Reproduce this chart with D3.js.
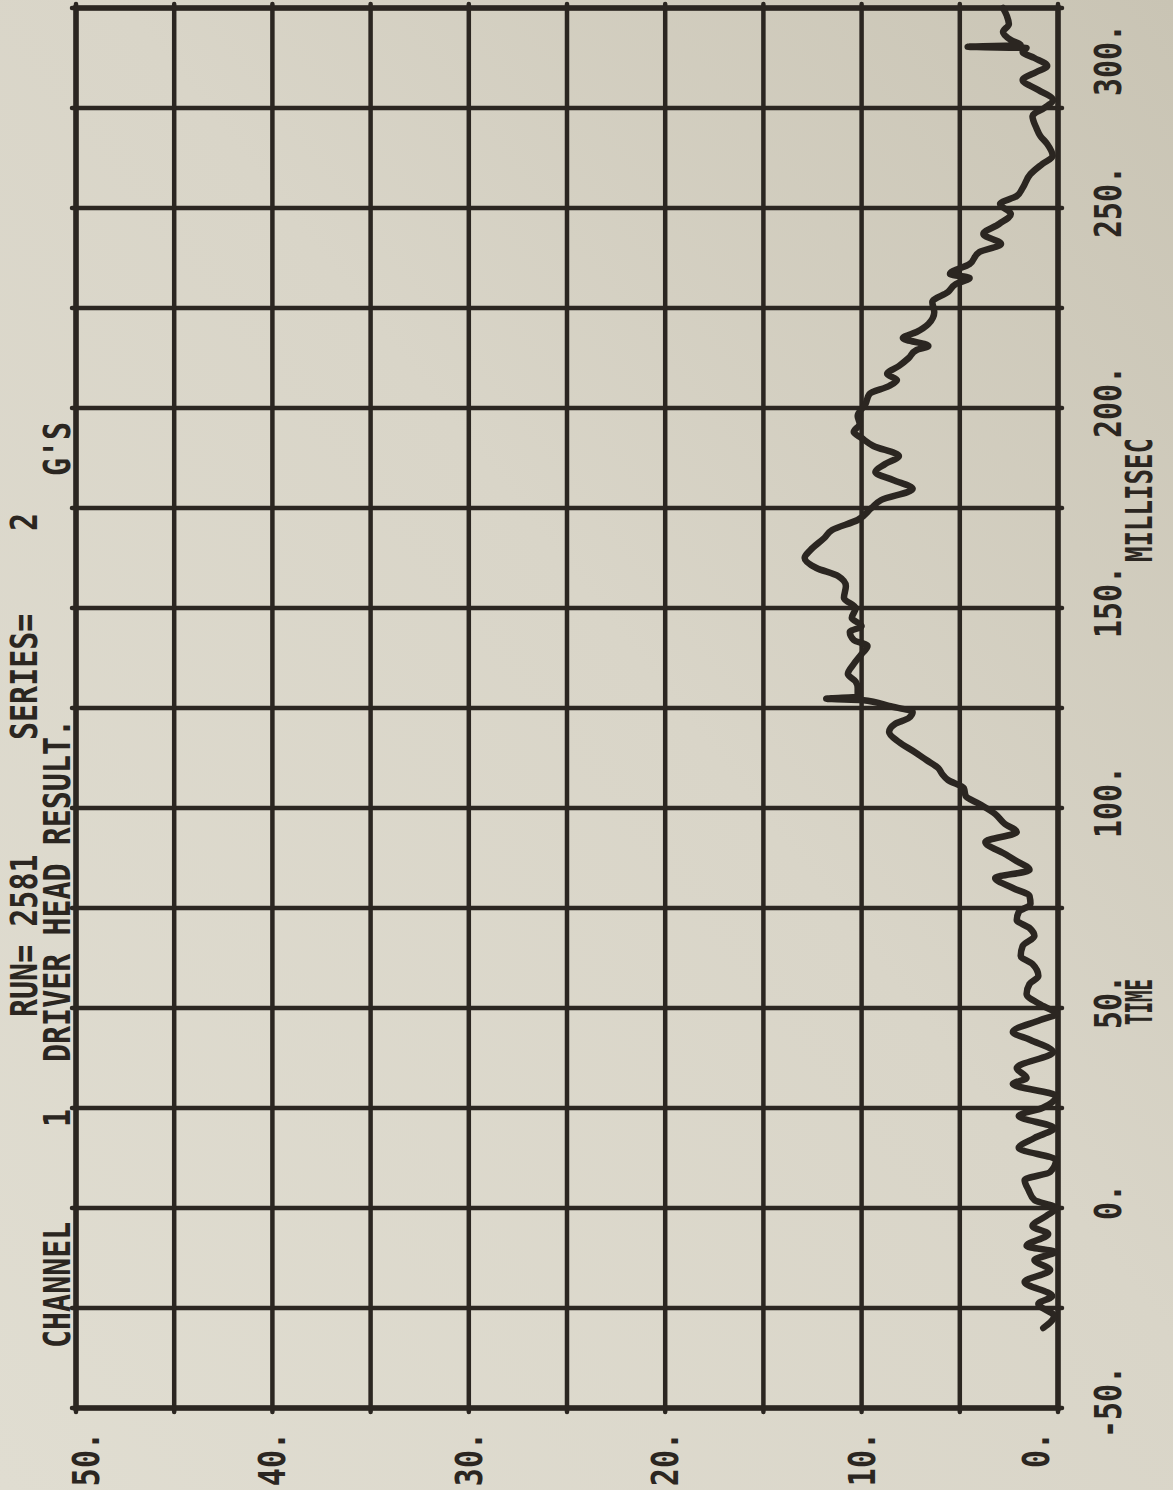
<!DOCTYPE html>
<html>
<head>
<meta charset="utf-8">
<script src="https://cdn.jsdelivr.net/npm/d3@7"></script>
<style>
  body { margin: 0; background: #dbd7ca; }
  svg { display: block; }
</style>
</head>
<body>
<svg id="chart"></svg>
<script>
// Driver head resultant acceleration (time in ms, value in G's)
const timeMs = [
  -30, -27, -24, -22, -18.5, -15.5, -13, -11, -9.5, -6.5, -4.5, -2, 0, 2, 4.5, 7, 9, 12, 15, 17.5,
  20, 23, 25, 28, 31, 32.5, 35, 39, 42, 44, 47, 48.5, 51, 53.5, 56, 58, 61, 63, 65.5, 68,
  70, 72, 74, 76, 78, 80, 82.5, 84.5, 87, 88.5, 91.5, 94, 96, 98.5, 101, 103, 105, 107, 108.5, 110,
  112, 114, 116.5, 119, 121, 122.5, 124, 125.5, 127, 127.3, 127.8, 130, 131.6, 133.5, 136, 138.5, 140.5, 142, 144, 145.5,
  147.5, 150, 152.5, 155.5, 158, 160, 162.5, 164.5, 167.5, 169.5, 172, 175, 177, 179.8, 182, 184, 186, 188, 190.5, 192.5,
  194, 196, 198, 201, 203.5, 205.5, 207, 208.5, 210.5, 212.5, 214.5, 215.5, 217.5, 219, 221, 224, 226.5, 229, 231, 232.5,
  233.5, 236, 239, 241, 243.5, 246, 248.5, 251, 253, 255, 258.5, 261, 263, 266, 268, 270, 273, 275, 277, 279.5,
  282, 284, 285.5, 287.5, 289, 290, 290.3, 290.7, 292, 294, 296, 298, 300
];
const headG = [
  0.75, 0.2, 1.0, 0.3, 1.7, 0.4, 1.2, 0.15, 1.6, 0.5, 1.3, 0.6, 0.1, 1.2, 1.5, 1.7, 0.4, 0.1, 2.0, 1.2,
  0.2, 2.0, 0.8, 0.1, 2.3, 1.6, 2.1, 0.25, 1.4, 2.3, 0.9, 0.1, 0.95, 1.6, 1.45, 1.0, 1.3, 1.9, 1.8, 1.2,
  1.45, 2.1, 2.0, 1.4, 1.45, 2.3, 3.2, 1.45, 2.2, 2.7, 3.7, 2.1, 2.7, 3.2, 4.0, 4.7, 4.8, 5.6, 5.9, 6.1,
  6.7, 7.3, 8.1, 8.6, 8.3, 7.6, 7.4, 8.6, 10.0, 11.8, 10.2, 10.2, 10.3, 10.7, 10.4, 10.0, 9.7, 10.4, 10.6, 10.0,
  10.5, 10.3, 10.9, 10.8, 11.2, 12.3, 12.9, 12.6, 11.9, 11.5, 10.2, 9.5, 9.0, 7.4, 8.4, 9.3, 8.8, 8.1, 9.4, 10.0,
  10.4, 10.1, 10.2, 9.8, 9.6, 8.6, 8.2, 8.7, 8.1, 7.6, 7.2, 6.6, 7.9, 7.2, 6.6, 6.3, 6.4, 5.6, 5.2, 4.5,
  5.5, 4.5, 4.0, 2.9, 3.8, 3.0, 2.4, 2.95, 2.1, 1.8, 1.4, 0.8, 0.27, 0.55, 0.9, 1.1, 1.3, 0.7, 0.25, 1.0,
  1.8, 1.1, 0.55, 1.2, 1.8, 1.6, 4.6, 1.9, 2.4, 2.8, 2.5, 2.6, 2.8
];

const timeGrid = d3.range(-50, 301, 25);
const gGrid = d3.range(0, 51, 5);
const timeTicks = [-50, 0, 50, 100, 150, 200, 250, 300];
const gTicks = [0, 10, 20, 30, 40, 50];
const titleTop = ['RUN= 2581', 'SERIES=', '2'];
const titleBottom = ['CHANNEL', '1', 'DRIVER HEAD RESULT.', "G'S"];
const axisNames = ['TIME', 'MILLISEC'];

const data = timeMs.map((t, i) => ({ t, g: headG[i] }));

const width = 1173, height = 1490;
// the plotter drew the chart sideways: build it in a 1490 x 1173 frame and turn it
const ink = '#2b2621';
const font = "'DejaVu Sans Mono', 'Liberation Mono', monospace";

const svg = d3.select('#chart')
  .attr('width', width)
  .attr('height', height);

const defs = svg.append('defs');
const paper = defs.append('linearGradient')
  .attr('id', 'paper')
  .attr('x1', '0').attr('y1', '1')
  .attr('x2', '1').attr('y2', '0');
paper.append('stop').attr('offset', '0').attr('stop-color', '#e0ddd1');
paper.append('stop').attr('offset', '0.55').attr('stop-color', '#d9d5c8');
paper.append('stop').attr('offset', '1').attr('stop-color', '#c9c4b4');

svg.append('rect')
  .attr('width', width)
  .attr('height', height)
  .attr('fill', 'url(#paper)');

const main = svg.append('g')
  .attr('transform', `translate(0,${height}) rotate(-90)`);

const x = d3.scaleLinear()
  .domain([-50, 300])
  .range([82, 1482]);

const y = d3.scaleLinear()
  .domain([0, 50])
  .range([1058, 76]);

const grid = main.append('g')
  .attr('class', 'grid')
  .attr('stroke', ink)
  .attr('stroke-width', 4.5)
  .attr('stroke-linecap', 'round');

grid.selectAll('.vline')
  .data(timeGrid)
  .enter()
  .append('line')
  .attr('class', 'vline')
  .attr('x1', d => x(d))
  .attr('x2', d => x(d))
  .attr('y1', y(50) - 4)
  .attr('y2', y(0) + 4);

grid.selectAll('.hline')
  .data(gGrid)
  .enter()
  .append('line')
  .attr('class', 'hline')
  .attr('x1', x(-50) - 4)
  .attr('x2', x(300) + 4)
  .attr('y1', d => y(d))
  .attr('y2', d => y(d));

grid.append('rect')
  .attr('x', x(-50))
  .attr('y', y(50))
  .attr('width', x(300) - x(-50))
  .attr('height', y(0) - y(50))
  .attr('fill', 'none')
  .attr('stroke-width', 5.5);

const line = d3.line()
  .curve(d3.curveMonotoneX)
  .x(d => x(d.t))
  .y(d => y(d.g));

main.append('path')
  .datum(data)
  .attr('fill', 'none')
  .attr('stroke', ink)
  .attr('stroke-width', 6.5)
  .attr('stroke-linejoin', 'round')
  .attr('stroke-linecap', 'round')
  .attr('d', line);

// plotter lettering: narrow monospace, stretched tall
const label = (g, text, px, py, anchor) => g.append('text')
  .attr('transform', `translate(${px},${py}) scale(1,1.22)`)
  .attr('text-anchor', anchor || 'start')
  .attr('font-family', font)
  .attr('font-weight', 'bold')
  .attr('font-size', 30)
  .attr('fill', ink)
  .text(text);

const texts = main.append('g').attr('class', 'texts');

gTicks.forEach(v => {
  const cy = Math.max(86, Math.min(1036, y(v)));
  label(texts, v + '.', 58, cy + 13, 'end');
});

timeTicks.forEach(v => {
  const cx = Math.min(x(v) + 6, 1430);
  label(texts, v + '.', cx, 1121, 'middle');
});

label(texts, axisNames[0], 465, 1152).attr('textLength', 46).attr('lengthAdjust', 'spacingAndGlyphs');
label(texts, axisNames[1], 928, 1152).attr('textLength', 124).attr('lengthAdjust', 'spacingAndGlyphs');

const topX = [473, 750, 959];
titleTop.forEach((s, i) => label(texts, s, topX[i], 37));

const bottomX = [142, 363, 428, 1014];
titleBottom.forEach((s, i) => label(texts, s, bottomX[i], 70));
</script>
</body>
</html>
